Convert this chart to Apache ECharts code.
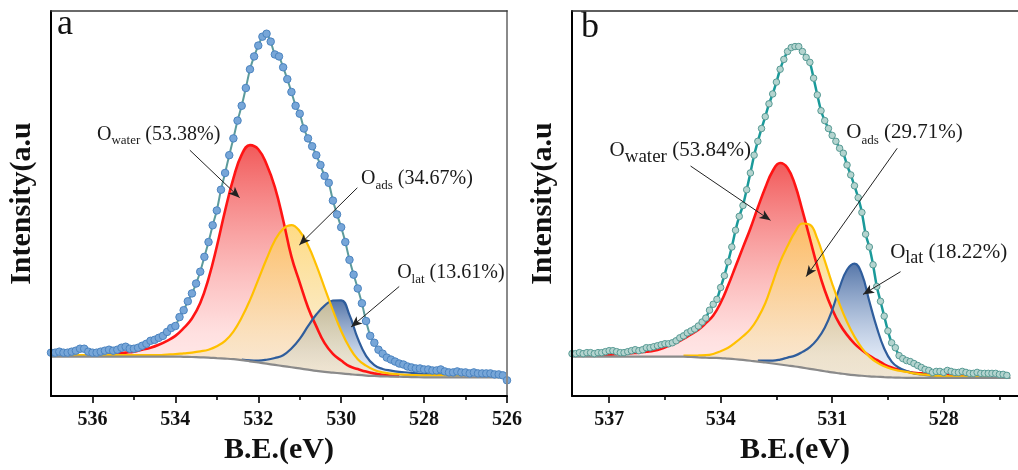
<!DOCTYPE html>
<html><head><meta charset="utf-8">
<script src="https://cdn.jsdelivr.net/npm/echarts@6/dist/echarts.min.js"></script>
<style>html,body{margin:0;padding:0;background:#fff}#c{width:1018px;height:470px}</style>
</head><body><div id="c"></div>
<script>
// ================= DATA =================
// Panel a: measured O 1s spectrum (0.1 eV sampling, from 537.0 eV downwards)
const A_DATA_START = 537.0;
const aCounts = [44,44,45,44,44,45,46,48,48,45, 44,44,45,46,47,46,47,49,50,48,
  48,49,51,53,56,57,59,61,65,69, 71,80,87,96,104,114,126,141,156,173,
  188,209,226,244,261,279,294,312,331,344, 355,364,367,359,346,344,333,321,308,294,
  286,271,261,253,244,234,223,216,198,184, 171,156,138,123,109,94,76,61,54,47,
  43,39,37,35,33,32,30,29,28,28, 27,27,26,26,27,25,24,24,25,24,
  24,23,24,23,23,23,23,22,22,21, 16];
// Panel a fitted components, heights above background (0.2 eV sampling, from 537.0 eV downwards)
const A_FIT_START = 537.0;
const aBackground = [40,40,40,40,40,40,40,40,40,40, 40,40,40,40,40,40,39.8,39.6,39.3,39,
  38.5,38,37.4,36.5,35.2,34,32.8,31.6,30.4,29.2, 28,26.8,25.6,24.6,23.8,23,22.2,21.4,20.8,20.4,
  20,19.8,19.6,19.4,19.2,19,19,19,19,19, 19,19,19,19,19,19];
const aWater = [null,null,null,null,null,null,1,2,3,4, 5,7,9,12,16,21,29,39,55,80,
  113,150,183,208,219,216,202,180,148,112, 87,63,45,29,19,13,8,6,4,2.5,
  1.5,1,0.5,null,null,null,null,null,null,null, null,null,null,null,null,null];
const aAds = [null,1.5,1.5,1.5,1.5,1.5,1.5,1.5,1.5,1.5, 1.5,1.5,1.5,1.5,2,2.5,3.5,4.5,6,8,
  12,18,28,43,62,84,106,126,139,144, 139,126,107,85,63,43,27,16,10,6,
  4,3,2.5,2,2,2,2,2,2,2, 2,null,null,null,null,null];
const aLat = [null,null,null,null,null,null,null,null,null,null, null,null,null,null,null,null,null,null,null,null,
  null,null,null,0.5,1,2,4,7,11,19, 30,44,57,67,73,74,60,37,20,11,
  7.5,6,5,4.5,4,3.5,3,3,3,3, 3,null,null,null,null,null];
const aTickLabels = [536,534,532,530,528,526];
const aMinorTicks = [535,533,531,529,527];
const aPercents = ['53.38%','34.67%','13.61%'];

// Panel b: measured spectrum (0.1 eV sampling, from 538.0 eV downwards)
const B_DATA_START = 538.0;
const bCounts = [43,43,44,43,44,44,43,44,44,45, 46,46,45,44,44,45,46,47,46,47,
  49,49,50,51,52,53,53,54,56,59, 61,64,66,68,71,75,79,87,93,98,
  110,122,136,151,168,182,193,209,226,244, 258,271,283,296,306,318,331,341,349,353,
  354,354,349,343,338,322,305,289,279,271, 264,258,251,246,234,224,213,201,186,164,
  151,133,111,96,81,66,54,49,41,38, 36,35,33,31,29,27,26,24,25,25,
  24,26,25,24,24,25,24,23,23,24, 23,23,23,23,23,22,22,21];
const B_FIT_START = 538.0;
const bBackground = [40,40,40,40,40,40,40,40,40,40, 40,40,40,40,40,40,39.6,39.2,38.9,38.7,
  38.5,37.9,37.3,36.6,35.8,35,34,33,32,31, 30,28.8,27.6,26.4,25.2,24,23,22,21.2,20.6,
  20,19.6,19.2,18.9,18.7,18.5,18.5,18.5,18.5,18.5, 18.5,18.5,18.5,18.5,18.5,18.5,18.5,18.5,18.5,18.5];
const bWater = [null,1,1,1.5,2,2,2.5,3,3.5,4, 5,6,8,11,14,18,23,28,35,43,
  56,74,94,114,134,156,177,195,204,200, 184,159,132,105,82,64,50,40,32,26,
  21,17,13,10,8,6.5,5,4.5,4,3.5, 3,3,2.5,2.5,2,null,null,null,null,null];
const bAds = [null,null,null,null,null,null,null,null,null,null, null,null,null,null,null,1,1.5,2,2.5,4,
  7,11,17,24,32,44,60,82,104,121, 136,146,146,133,112,90,70,53,39,28,
  20,14.5,11,8.5,7,6,4.5,3.5,3,2, 2,1.5,1.5,1.5,1.5,1.5,1.5,null,null,null];
const bLat = [null,null,null,null,null,null,null,null,null,null, null,null,null,null,null,null,null,null,null,null,
  null,null,null,null,null,1,2,3,5,8, 11,16,22,31,44,63,87,106,113,103,
  76,50,29,16,10,7,4.5,3.5,2.5,2, 1.5,null,null,null,null,null,null,null,null,null];
const bTickLabels = [537,534,531,528];
const bMinorTicks = [535.5,532.5,529.5,526.5];
const bPercents = ['53.84%','29.71%','18.22%'];

// ================= CHART =================
const FONT = '"Liberation Serif","Times New Roman",serif';
const DATA_STEP = -0.1, FIT_STEP = -0.2;
const Y_MAX = 390;
function energies(start, step, n) {
  return Array.from({length: n}, (_, i) => Math.round((start + step * i) * 10) / 10);
}
function grad(stops) {
  return new echarts.graphic.LinearGradient(0, 0, 0, 1, stops.map(s => ({offset: s[0], color: s[1]})));
}
// fill gradients run from the peak down to the axis floor; the part under the background is masked white
const compStyles = [
  {line: '#ff1414', w: 2.6, fill: [[0, 'rgba(240,72,72,0.9)'], [0.75, 'rgba(255,205,205,0.62)'], [1, 'rgba(255,230,230,0.6)']]},
  {line: '#2f5d9c', w: 2.2, fill: [[0, 'rgba(68,104,160,0.9)'], [0.7, 'rgba(200,215,238,0.6)'], [1, 'rgba(225,232,245,0.6)']]},
  {line: '#ffc000', w: 2.2, fill: [[0, 'rgba(255,205,85,0.72)'], [0.75, 'rgba(246,228,185,0.62)'], [1, 'rgba(246,232,200,0.6)']]}
];

function panelSeries(p) {
  const fitE = energies(p.fitStart, FIT_STEP, p.bg.length);
  const dataE = energies(p.dataStart, DATA_STEP, p.counts.length);
  const s = [];
  const base = {type: 'line', xAxisIndex: p.xi, yAxisIndex: p.yi, silent: true, smooth: 0.45, symbol: 'none'};
  // draw order: water (red), lattice (blue), adsorbed (yellow)
  [p.water, p.lat, p.ads].forEach((vals, k) => {
    const st = compStyles[k];
    s.push(Object.assign({}, base, {
      lineStyle: {color: st.line, width: st.w},
      areaStyle: {color: grad(st.fill), opacity: 1, origin: 'start'},
      data: fitE.map((e, i) => [e, vals[i] == null ? null : p.bg[i] + vals[i]])
    }));
  });
  // white mask below the background line
  s.push(Object.assign({}, base, {lineStyle: {width: 0, opacity: 0},
    areaStyle: {color: '#ffffff', opacity: 1, origin: 'start'}, data: fitE.map((e, i) => [e, p.bg[i]])}));
  // background line
  s.push(Object.assign({}, base, {lineStyle: {color: '#8a8a8a', width: 2.2}, data: fitE.map((e, i) => [e, p.bg[i]])}));
  // measured data
  s.push({type: 'line', xAxisIndex: p.xi, yAxisIndex: p.yi, silent: true, smooth: 0.2,
    symbol: 'circle', symbolSize: p.marker.size, showAllSymbol: true,
    lineStyle: {color: p.marker.line, width: p.marker.lw},
    itemStyle: {color: p.marker.fill, borderColor: p.marker.border, borderWidth: 1},
    data: dataE.map((e, i) => [e, p.counts[i]]),
    markLine: {silent: true, animation: false, symbol: ['none', 'arrow'], symbolSize: [7, 11],
      lineStyle: {color: '#222', width: 1, type: 'solid'}, label: {show: false},
      data: p.arrows.map(a => [{coord: [a[0], a[1]]}, {coord: [a[2], a[3]]}])},
    markPoint: {silent: true, animation: false, symbol: 'circle', symbolSize: 0,
      data: p.labels.map(l => ({coord: [l.e, l.v], value: 0,
        label: {show: true, position: [0, 0], align: 'left', verticalAlign: 'bottom', offset: [0, l.pb + 3],
          formatter: '{o|O}{s|' + l.sub + '}{o| (' + l.pct + ')}',
          rich: {
            o: {fontSize: l.fs, fontFamily: FONT, color: '#1a1a1a', padding: [0, 0, l.pb, 0], verticalAlign: 'bottom'},
            s: {fontSize: l.ss, fontFamily: FONT, color: '#1a1a1a', verticalAlign: 'bottom'}
          }}}))}
  });
  return s;
}

const series = [].concat(
  panelSeries({id: 'a', xi: 0, yi: 0, fitStart: A_FIT_START, dataStart: A_DATA_START,
    bg: aBackground, water: aWater, ads: aAds, lat: aLat, counts: aCounts,
    marker: {size: 7.5, fill: '#77a6d8', border: '#4c84c0', line: '#5c9b9c', lw: 2},
    arrows: [[533.65, 249, 532.45, 201], [529.61, 211, 531.01, 153], [528.6, 111, 529.76, 70]],
    labels: [
      {e: 535.89, v: 258, sub: 'water', pct: aPercents[0], fs: 20, ss: 13, pb: 3},
      {e: 529.52, v: 213, sub: 'ads', pct: aPercents[1], fs: 20, ss: 13, pb: 3},
      {e: 528.65, v: 118, sub: 'lat', pct: aPercents[2], fs: 20, ss: 13, pb: 3}
    ]}),
  panelSeries({id: 'b', xi: 3, yi: 2, fitStart: B_FIT_START, dataStart: B_DATA_START,
    bg: bBackground, water: bWater, ads: bAds, lat: bLat, counts: bCounts,
    marker: {size: 6.5, fill: '#b4d4cf', border: '#579a94', line: '#1a9a9a', lw: 2.5},
    arrows: [[534.81, 233, 532.66, 178], [529.25, 251, 531.7, 121], [529.16, 126, 530.17, 103]],
    labels: [
      {e: 536.99, v: 241, sub: 'water', pct: bPercents[0], fs: 21, ss: 19, pb: 5},
      {e: 530.62, v: 259, sub: 'ads', pct: bPercents[1], fs: 21, ss: 13, pb: 4},
      {e: 529.44, v: 138, sub: 'lat', pct: bPercents[2], fs: 21, ss: 18, pb: 4.5}
    ]})
);

const labelStyle = {fontSize: 20, fontWeight: 'bold', fontFamily: FONT, color: '#111', margin: 14};
const nameStyle = {fontSize: 30, fontWeight: 'bold', fontFamily: FONT, color: '#111'};
function mainX(grid, min, max, ticks) {
  return {gridIndex: grid, type: 'value', position: 'bottom', min, max, inverse: true, z: 10,
    axisLine: {onZero: false, lineStyle: {color: '#000', width: 2}},
    axisTick: {customValues: ticks, length: 7, lineStyle: {color: '#000', width: 1.6}},
    axisLabel: Object.assign({customValues: ticks}, labelStyle),
    splitLine: {show: false},
    name: 'B.E.(eV)', nameLocation: 'middle', nameGap: 38, nameTextStyle: nameStyle};
}
function minorX(grid, min, max, ticks) {
  return {gridIndex: grid, type: 'value', position: 'bottom', min, max, inverse: true, z: 10,
    axisLine: {show: false, onZero: false}, axisTick: {customValues: ticks, length: 4, lineStyle: {color: '#000', width: 1.6}},
    axisLabel: {show: false}, splitLine: {show: false}};
}
function topX(grid, min, max, color) {
  return {gridIndex: grid, type: 'value', position: 'top', min, max, inverse: true, z: 10,
    axisLine: {onZero: false, lineStyle: {color, width: 1.6}}, axisTick: {show: false},
    axisLabel: {show: false}, splitLine: {show: false}};
}
function yAx(grid, pos, color, named) {
  const o = {gridIndex: grid, type: 'value', position: pos, min: 0, max: Y_MAX, z: 10,
    axisLine: {show: true, onZero: false, lineStyle: {color, width: 2}},
    axisTick: {show: false}, axisLabel: {show: false}, splitLine: {show: false}};
  if (named) Object.assign(o, {name: 'Intensity(a.u', nameLocation: 'middle', nameGap: 14, nameTextStyle: nameStyle});
  return o;
}

const chart = echarts.init(document.getElementById('c'), null, {renderer: 'canvas'});
chart.setOption({
  animation: false,
  backgroundColor: '#fff',
  textStyle: {fontFamily: FONT},
  title: [
    {text: 'a', left: 57, top: 7, padding: 0, textStyle: {fontSize: 36, fontWeight: 'normal', fontFamily: FONT, color: '#111'}},
    {text: 'b', left: 581, top: 10, padding: 0, textStyle: {fontSize: 36, fontWeight: 'normal', fontFamily: FONT, color: '#111'}}
  ],
  grid: [
    {left: 51, top: 11, right: 511, bottom: 69},
    {left: 572, top: 11, right: -11, bottom: 69}
  ],
  xAxis: [
    mainX(0, 526, 537, aTickLabels), minorX(0, 526, 537, aMinorTicks), topX(0, 526, 537, '#3a3a3a'),
    mainX(1, 526, 538, bTickLabels), minorX(1, 526, 538, bMinorTicks), topX(1, 526, 538, '#2a2a2a')
  ],
  yAxis: [yAx(0, 'left', '#000', true), yAx(0, 'right', '#8a8a8a', false), yAx(1, 'left', '#000', true)],
  series
});
</script>
</body></html>
